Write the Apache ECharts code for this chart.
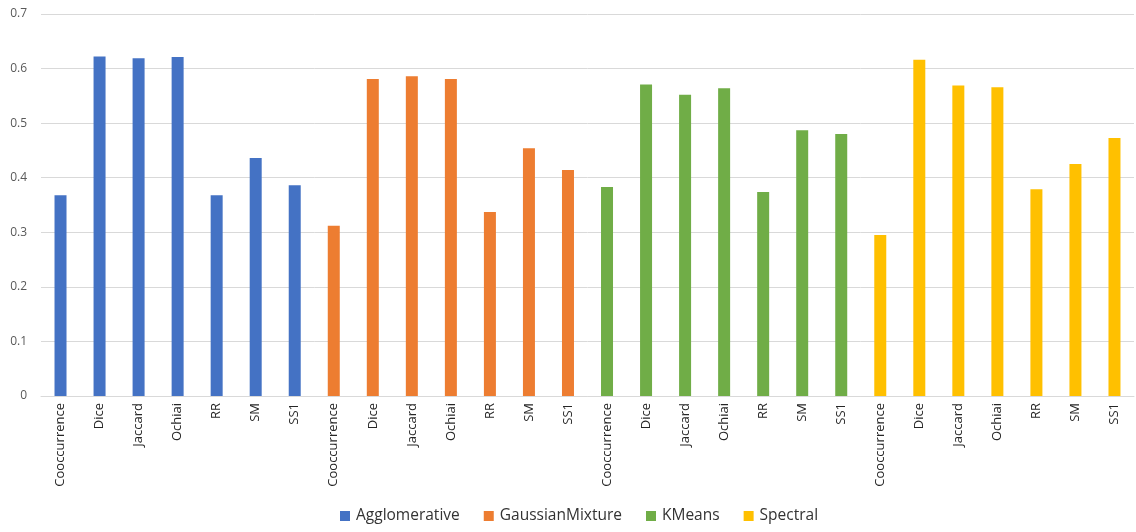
<!DOCTYPE html>
<html>
<head>
<meta charset="utf-8">
<script src="https://cdn.jsdelivr.net/npm/echarts@6/dist/echarts.min.js"></script>
<style>
  html, body { margin: 0; padding: 0; background: #fff; }
  #chart { width: 1136px; height: 532px; }
</style>
</head>
<body>
<div id="chart"></div>
<script>
// Similarity measures evaluated for each clustering algorithm
const measures = ['Cooccurrence', 'Dice', 'Jaccard', 'Ochiai', 'RR', 'SM', 'SS1'];
const algorithms = ['Agglomerative', 'GaussianMixture', 'KMeans', 'Spectral'];

const agglomerative   = [0.368, 0.622, 0.619, 0.621, 0.368, 0.436, 0.386];
const gaussianMixture = [0.312, 0.581, 0.586, 0.581, 0.337, 0.454, 0.414];
const kmeans          = [0.383, 0.571, 0.552, 0.564, 0.374, 0.487, 0.480];
const spectral        = [0.295, 0.616, 0.569, 0.566, 0.379, 0.425, 0.473];

const yTicks = { min: 0, max: 0.7, interval: 0.1 };
const colors = ['#4472C4', '#ED7D31', '#70AD47', '#FFC000'];

const groups = [agglomerative, gaussianMixture, kmeans, spectral];

// One category per (algorithm, measure) pair, grouped by algorithm
const categories = [];
algorithms.forEach(() => measures.forEach(m => categories.push(m)));

// Each series only fills its own block of categories
const series = algorithms.map((name, gi) => {
  const data = categories.map(() => null);
  groups[gi].forEach((v, i) => { data[gi * measures.length + i] = v; });
  return {
    name,
    type: 'bar',
    stack: 'all',
    barWidth: 12,
    itemStyle: { color: colors[gi] },
    data
  };
});

const font = '"Open Sans", "Noto Sans", sans-serif';
const chart = echarts.init(document.getElementById('chart'), null, { renderer: 'canvas' });
chart.setOption({
  animation: false,
  textStyle: { fontFamily: font },
  grid: { left: 41, right: 2, top: 14, bottom: 136, containLabel: false },
  legend: {
    bottom: 3,
    left: 335,
    itemWidth: 10,
    itemHeight: 10,
    itemGap: 24,
    icon: 'rect',
    textStyle: { fontFamily: font, fontSize: 15.5, color: '#333333', padding: [0, 0, 0, 1] },
    data: algorithms
  },
  xAxis: {
    type: 'category',
    data: categories,
    axisLine: { lineStyle: { color: '#d9d9d9' } },
    axisTick: { show: false },
    axisLabel: {
      rotate: 90,
      interval: 0,
      margin: 7,
      fontFamily: font,
      fontSize: 13,
      color: '#262626'
    }
  },
  yAxis: {
    type: 'value',
    min: yTicks.min,
    max: yTicks.max,
    interval: yTicks.interval,
    axisLine: { show: false },
    axisTick: { show: false },
    splitLine: { lineStyle: { color: '#d9d9d9' } },
    axisLabel: {
      margin: 14,
      fontFamily: font,
      fontSize: 12,
      color: '#595959',
      formatter: v => (v === 0 ? '0' : v.toFixed(1))
    }
  },
  series
});
</script>
</body>
</html>
